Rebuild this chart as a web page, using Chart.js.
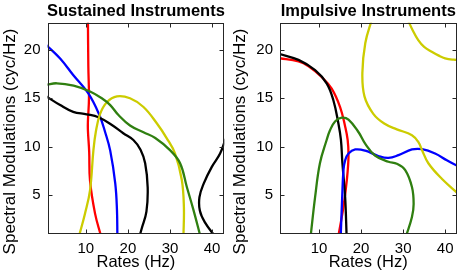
<!DOCTYPE html>
<html>
<head>
<meta charset="utf-8">
<script src="https://cdn.jsdelivr.net/npm/chart.js@4.4.0/dist/chart.umd.min.js"></script>
<style>
html, body { margin: 0; padding: 0; background: #fff; }
#wrap { position: relative; width: 461px; height: 277px; }
.panel { position: absolute; top: 0; height: 277px; }
#p1 { left: 0; width: 230px; }
#p2 { left: 230px; width: 231px; }
</style>
</head>
<body>
<div id="wrap">
  <div class="panel" id="p1"><canvas id="c1"></canvas></div>
  <div class="panel" id="p2"><canvas id="c2"></canvas></div>
</div>
<script>
// ticks
const xTicks = [10, 20, 30, 40];
const yTicks = [5, 10, 15, 20];

// Sustained instruments: contour curves [rate, spectral modulation]
const susRed = [[10.5,23.2],[10.6,18.3],[10.75,15],[10.5,12.6],[10.5,11.7],[10.8,9.5],[11.0,6.5],[12.2,3.1],[13.6,0.8]];
const susBlue = [[0.6,20.5],[3.9,19.1],[7.0,17.4],[10.6,15.5],[13.2,13.3],[14.6,11.5],[15.8,9.6],[17.0,6.2],[17.4,3.5],[17.5,0.8]];
const susGreen = [[0.6,16.4],[3.1,16.55],[7.1,16.3],[11.0,15.7],[13.8,15.0],[15.8,14.3],[17.7,13.3],[20.5,12.2],[23.7,11.5],[26.5,10.9],[30,9.65],[32.4,8.3],[34,5.85],[35.6,3.44],[37.2,0.8]];
const susBlack = [[0.6,15.2],[3.9,14.3],[7.0,13.6],[10.2,13.35],[13.0,13.05],[16.2,12.25],[18.9,11.4],[21.3,10.7],[23.0,9.7],[24.1,8.3],[24.7,5.8],[24.4,3.3],[23.3,1.6],[22.8,0.8]];
const susBlack2 = [[40.6,0.8],[38.3,2.2],[37.1,3.4],[37.0,4.8],[38.0,6.2],[39.9,7.9],[41.9,9.3],[43.2,10.8]];
const susYellow = [[8.4,0.8],[9.8,3.1],[11.0,5.5],[11.8,9.6],[12.4,11.6],[13.4,13.4],[15.0,14.6],[17.4,15.2],[20.5,15.0],[23.7,14.1],[26.9,12.4],[29.2,10.9],[31.2,9.3],[32.8,6.6],[33.3,3.8],[33.2,0.8]];

// Impulsive instruments
const impBlack = [[0.4,19.6],[5.1,18.96],[9.05,17.9],[11.8,16.55],[13.4,14.8],[14.6,12.4],[15.2,10.7],[15.55,8.3],[16.2,4.8],[16.55,0.8]];
const impRed = [[0.4,19.15],[5.1,18.8],[7.5,18.3],[10.6,17.2],[13.0,16.0],[15.0,14.1],[16.2,12.1],[16.8,10.7],[17.0,9.0],[16.6,6.55],[15.8,3.8],[14.6,0.8]];
const impGreen = [[8.0,0.8],[9.05,4.8],[10.2,8.3],[11.8,10.7],[12.6,11.7],[13.8,12.6],[15.4,13.0],[17.0,12.8],[19.4,11.5],[21.0,10.3],[23.3,9.1],[26.5,8.45],[28.5,8.25],[30.5,7.6],[32.1,5.85],[32.5,4.1],[32.1,2.75],[30.7,0.8]];
const impBlue = [[15.15,0.8],[15.5,4.8],[15.8,7.6],[16.2,8.6],[17.0,9.3],[18.6,9.72],[21.0,9.6],[24.1,9.05],[26.5,8.85],[28.9,9.13],[32.1,9.72],[34.5,9.75],[37.6,9.3],[40.4,8.6],[43.0,8.0]];
const impYellow = [[22.6,23.2],[21.0,20.7],[20.3,17.6],[20.8,15.2],[22.9,13.4],[25.5,12.4],[28.5,11.8],[32.1,11.2],[33.6,10.5],[34.5,9.65],[36.0,8.3],[39.2,6.7],[43.0,5.2]];
const impYellow2 = [[31.0,23.2],[32.3,22.0],[33.6,21.0],[35.0,20.3],[36.8,19.8],[38.5,19.4],[40.0,19.13],[42.0,18.98],[43.2,18.96]];

const RED = '#ff0000', BLUE = '#0000ff', GREEN = '#2f7f10', BLACK = '#000000', YELLOW = '#cccc00';
const FONT = 'Liberation Sans, Arial, Helvetica, sans-serif';

function serie(pts, color) {
    return {
        data: pts.map(p => ({ x: p[0], y: p[1] })),
        borderColor: color,
        borderWidth: 2.3,
        pointRadius: 0,
        showLine: true,
        fill: false,
        tension: 0.4
    };
}

// caja con ticks hacia dentro, titulo del panel y titulo del eje y
const frame = {
    id: 'frame',
    afterDatasetsDraw(chart, args, opts) {
        const { ctx, chartArea: a, scales: { x, y } } = chart;
        ctx.save();
        ctx.strokeStyle = '#262626';
        ctx.lineWidth = 1;
        const l = Math.round(a.left) + 0.5, r = Math.round(a.right) - 0.5;
        const t = Math.round(a.top) + 0.5, b = Math.round(a.bottom) - 0.5;
        ctx.strokeRect(l, t, r - l, b - t);
        ctx.beginPath();
        xTicks.forEach(v => {
            const px = Math.round(x.getPixelForValue(v)) + 0.5;
            ctx.moveTo(px, b); ctx.lineTo(px, b - 4);
            ctx.moveTo(px, t); ctx.lineTo(px, t + 4);
        });
        yTicks.forEach(v => {
            const py = Math.round(y.getPixelForValue(v)) + 0.5;
            ctx.moveTo(l, py); ctx.lineTo(l + 4, py);
            ctx.moveTo(r, py); ctx.lineTo(r - 4, py);
        });
        ctx.stroke();

        ctx.fillStyle = '#000';
        ctx.textAlign = 'center';
        ctx.textBaseline = 'alphabetic';
        ctx.font = 'bold 16.5px ' + FONT;
        ctx.fillText(opts.title, (a.left + a.right) / 2, 16);

        ctx.font = '17px ' + FONT;
        ctx.textBaseline = 'middle';
        ctx.translate(10.5, 141.5);
        ctx.rotate(-Math.PI / 2);
        ctx.fillText('Spectral Modulations (cyc/Hz)', 0, 0);
        ctx.restore();
    }
};

function makeChart(id, title, datasets, xMin, xMax, yAxisWidth, padRight) {
    return new Chart(document.getElementById(id), {
        type: 'scatter',
        data: { datasets },
        options: {
            responsive: true,
            maintainAspectRatio: false,
            animation: false,
            layout: { padding: { left: 0, right: padRight, top: 22.7, bottom: 0 } },
            plugins: {
                legend: { display: false },
                tooltip: { enabled: false },
                title: { display: false },
                frame: { title: title }
            },
            scales: {
                x: {
                    type: 'linear',
                    min: xMin,
                    max: xMax,
                    grid: { display: false, drawTicks: false },
                    border: { display: false },
                    afterBuildTicks: s => { s.ticks = xTicks.map(v => ({ value: v })); },
                    afterFit: s => { s.height = 43; },
                    ticks: { color: '#000', padding: 6, maxRotation: 0, font: { family: FONT, size: 15 } },
                    title: {
                        display: true,
                        text: 'Rates (Hz)',
                        color: '#000',
                        font: { family: FONT, size: 16.5 },
                        padding: { top: 0, bottom: 5 }
                    }
                },
                y: {
                    type: 'linear',
                    min: 1,
                    max: 22.8,
                    grid: { display: false, drawTicks: false },
                    border: { display: false },
                    afterBuildTicks: s => { s.ticks = yTicks.map(v => ({ value: v })); },
                    afterFit: s => { s.width = yAxisWidth; },
                    ticks: { color: '#000', padding: 7, font: { family: FONT, size: 15 } }
                }
            }
        },
        plugins: [frame]
    });
}

makeChart('c1', 'Sustained Instruments', [
    serie(susGreen, GREEN),
    serie(susYellow, YELLOW),
    serie(susBlack, BLACK),
    serie(susBlack2, BLACK),
    serie(susBlue, BLUE),
    serie(susRed, RED)
], 0.9, 42.9, 47.5, 5.7);

makeChart('c2', 'Impulsive Instruments', [
    serie(impYellow, YELLOW),
    serie(impYellow2, YELLOW),
    serie(impGreen, GREEN),
    serie(impBlue, BLUE),
    serie(impBlack, BLACK),
    serie(impRed, RED)
], 0.7, 42.7, 50, 4.5);
</script>
</body>
</html>
